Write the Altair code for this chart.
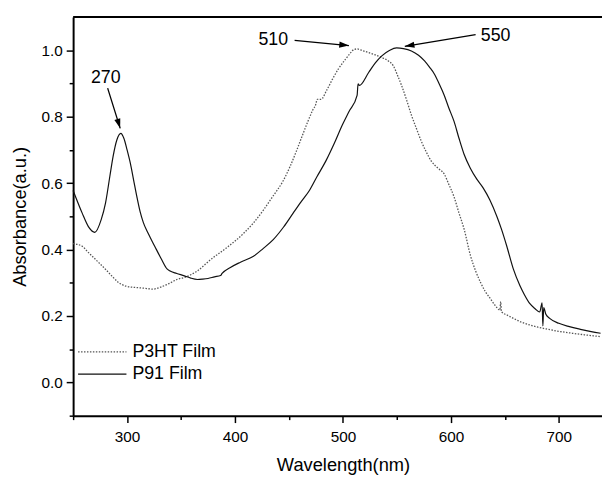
import math
import altair as alt
import pandas as pd

# ---------------- data ----------------
p91_nm = [250, 258.5, 264, 270.1, 276, 280, 284, 287, 290.5, 294.2, 297, 300, 303,
          306, 309, 312, 315, 319.5, 325.6, 332, 337, 339.4, 346, 353.1, 359, 365.2,
          370, 375, 381, 386.6, 388, 395.7, 405, 417.1, 426, 435.4, 445, 453.7,
          461, 468.9, 476, 484.2, 492, 499.4, 505.5, 513.1, 514.0, 515.2, 523.8,
          530, 536, 543, 549.7, 556, 563.4, 570, 575.6, 580, 584.8, 589, 593.9,
          598, 603, 607.5, 612.2, 618, 624, 630, 636, 642.7, 647, 651.8, 657.9,
          664, 668, 673.2, 678, 682.3, 684.5, 685.2, 686, 688, 691.5, 700, 709.8,
          720, 730, 738.7]
p91_abs = [0.578, 0.509, 0.470, 0.452, 0.490, 0.540, 0.620, 0.680, 0.730, 0.750,
           0.735, 0.700, 0.660, 0.610, 0.560, 0.515, 0.482, 0.449, 0.410, 0.370,
           0.342, 0.336, 0.328, 0.321, 0.314, 0.310, 0.311, 0.313, 0.318, 0.322,
           0.328, 0.346, 0.362, 0.380, 0.403, 0.430, 0.468, 0.509, 0.543, 0.578,
           0.620, 0.667, 0.720, 0.775, 0.815, 0.864, 0.899, 0.894, 0.933, 0.962,
           0.983, 0.999, 1.007, 1.005, 0.998, 0.985, 0.968, 0.950, 0.928, 0.900,
           0.864, 0.827, 0.785, 0.735, 0.687, 0.645, 0.612, 0.585, 0.550, 0.499,
           0.460, 0.410, 0.341, 0.291, 0.265, 0.237, 0.222, 0.212, 0.240, 0.170,
           0.225, 0.205, 0.193, 0.178, 0.168, 0.160, 0.153, 0.148]

p3ht_nm = [250, 258.5, 263, 267.7, 274, 279.9, 286, 292, 299, 307.3, 315, 324.1,
           331, 337.8, 347, 353.1, 365.2, 377.4, 392, 408, 417, 426.3, 435, 444.6,
           451, 456.8, 462, 467.4, 472, 475, 476, 479.6, 485, 490.3, 496, 502.4,
           507, 510, 513.1, 518, 523.8, 530, 536, 542, 546.7, 550.5, 554.3, 559,
           563.4, 568, 572.6, 577, 581.7, 588, 593.9, 598, 603, 607.5, 612.2,
           618.3, 623, 627.5, 632, 636.6, 641, 645.3, 646.2, 646.8, 652, 657.9,
           665, 673.2, 680, 688.4, 700, 712.8, 725, 738.7]
p3ht_abs = [0.418, 0.410, 0.395, 0.380, 0.360, 0.341, 0.320, 0.301, 0.290, 0.286,
            0.284, 0.281, 0.287, 0.296, 0.311, 0.316, 0.336, 0.370, 0.405, 0.449,
            0.480, 0.519, 0.560, 0.607, 0.650, 0.696, 0.740, 0.785, 0.820, 0.839,
            0.852, 0.852, 0.880, 0.913, 0.945, 0.973, 0.992, 1.002, 1.004, 0.999,
            0.993, 0.986, 0.978, 0.968, 0.953, 0.925, 0.894, 0.850, 0.805, 0.765,
            0.726, 0.695, 0.667, 0.645, 0.627, 0.597, 0.558, 0.510, 0.462, 0.380,
            0.335, 0.301, 0.273, 0.252, 0.232, 0.218, 0.243, 0.213, 0.203, 0.193,
            0.182, 0.173, 0.167, 0.161, 0.154, 0.148, 0.143, 0.138]

x_ticks = [250, 300, 350, 400, 450, 500, 550, 600, 650, 700]
y_ticks = [-0.1, 0.0, 0.1, 0.2, 0.3, 0.4, 0.5, 0.6, 0.7, 0.8, 0.9, 1.0]

peak_labels = ["270", "510", "550"]
legend_labels = ["P3HT Film", "P91 Film"]

# ---------------- layout / annotation placement ----------------
X_DOMAIN = [250, 740]
Y_DOMAIN = [-0.1, 1.1]
W, H = 536, 404
PX_NM = W / (X_DOMAIN[1] - X_DOMAIN[0])
PX_A = H / (Y_DOMAIN[1] - Y_DOMAIN[0])

label_x = [280.2, 435.4, 641.5]
label_y = [0.916, 1.031, 1.043]
arrow_x0 = [282.0, 455.2, 622.9]
arrow_y0 = [0.886, 1.030, 1.047]
arrow_x1 = [293.6, 505.5, 557.3]
arrow_y1 = [0.765, 1.014, 1.012]

angles = []
for a, b, c, d in zip(arrow_x0, arrow_y0, arrow_x1, arrow_y1):
    ang = math.degrees(math.atan2((c - a) * PX_NM, (d - b) * PX_A))
    angles.append(ang % 360)

FONT = "Liberation Sans"
X_TITLE = "Wavelength(nm)"
Y_TITLE = "Absorbance(a.u.)"

xs = alt.Scale(domain=X_DOMAIN, nice=False, zero=False)
ys = alt.Scale(domain=Y_DOMAIN, nice=False, zero=False)

x_axis = alt.Axis(
    values=x_ticks,
    labelExpr="datum.value % 100 === 0 ? datum.label : ''",
    tickSize={"condition": {"test": "datum.value % 100 === 0", "value": 7}, "value": 4},
    tickColor="black", tickWidth=1.5,
    domainColor="black", domainWidth=2,
    labelFont=FONT, labelFontSize=15.5, labelColor="black", labelPadding=7,
    labelOverlap=False, labelFlush=False,
    grid=False,
    titleFont=FONT, titleFontSize=18.5, titleFontWeight="normal", titleColor="black",
    titleX=273.5, titleY=50, titleBaseline="middle", titleAlign="center",
)
y_axis = alt.Axis(
    values=y_ticks,
    labelExpr="abs(round(datum.value * 10)) % 2 === 0 ? format(datum.value, '.1f') : ''",
    tickSize={"condition": {"test": "abs(round(datum.value * 10)) % 2 === 0", "value": 7}, "value": 4},
    tickColor="black", tickWidth=1.5,
    domainColor="black", domainWidth=2,
    labelFont=FONT, labelFontSize=15.5, labelColor="black", labelPadding=4,
    labelOverlap=False, labelFlush=False,
    grid=False,
    titleFont=FONT, titleFontSize=18.5, titleFontWeight="normal", titleColor="black",
    titleX=-54, titleY=H / 2, titleAngle=270, titleBaseline="middle", titleAlign="center",
)


def X(field):
    return alt.X(field, type="quantitative", scale=xs, axis=x_axis, title=X_TITLE)


def Y(field):
    return alt.Y(field, type="quantitative", scale=ys, axis=y_axis, title=Y_TITLE)


p3ht_df = pd.DataFrame({"nm": p3ht_nm, "abs": p3ht_abs})
p91_df = pd.DataFrame({"nm": p91_nm, "abs": p91_abs})

p3ht_line = alt.Chart(p3ht_df).mark_line(
    color="#555555", strokeWidth=1.3, strokeDash=[1.5, 1.5], interpolate="monotone"
).encode(x=X("nm"), y=Y("abs"), order="nm:Q")
p91_line = alt.Chart(p91_df).mark_line(
    color="#111111", strokeWidth=1.2, interpolate="monotone"
).encode(x=X("nm"), y=Y("abs"), order="nm:Q")

# top frame line
top_df = pd.DataFrame({"v": [Y_DOMAIN[1]]})
top_line = alt.Chart(top_df).mark_rule(color="black", strokeWidth=2).encode(y=Y("v"))

# annotations
ann_df = pd.DataFrame({
    "label": peak_labels, "lx": label_x, "ly": label_y,
    "x0": arrow_x0, "y0": arrow_y0, "x1": arrow_x1, "y1": arrow_y1, "ang": angles,
})
ann_text = alt.Chart(ann_df).mark_text(
    font=FONT, fontSize=18, color="black", align="center", baseline="middle"
).encode(x=X("lx"), y=Y("ly"), text="label:N")
ann_shaft = alt.Chart(ann_df).mark_rule(color="black", strokeWidth=1.3).encode(
    x=X("x0"), y=Y("y0"), x2="x1:Q", y2="y1:Q",
)
ann_head = alt.Chart(ann_df).mark_point(
    shape="M0,0L-0.32,1L0.32,1Z", size=380, filled=True, color="black", opacity=1,
    strokeWidth=0,
).encode(x=X("x1"), y=Y("y1"), angle=alt.Angle("ang:Q", scale=None))

# legend (drawn as marks)
leg_df = pd.DataFrame({"label": legend_labels, "ly": [0.092, 0.025],
                       "x0": [254.6, 254.6], "x1": [299.4, 299.4], "tx": [304.9, 304.9]})
leg_dot = alt.Chart(leg_df.iloc[[0]]).mark_rule(
    color="#555555", strokeWidth=1.3, strokeDash=[1.5, 1.5]
).encode(x=X("x0"), x2="x1:Q", y=Y("ly"))
leg_solid = alt.Chart(leg_df.iloc[[1]]).mark_rule(color="#111111", strokeWidth=1.2).encode(
    x=X("x0"), x2="x1:Q", y=Y("ly"))
leg_text = alt.Chart(leg_df).mark_text(
    font=FONT, fontSize=18, color="black", align="left", baseline="middle"
).encode(x=X("tx"), y=Y("ly"), text="label:N")

chart = alt.layer(
    p3ht_line, p91_line, top_line, ann_shaft, ann_head, ann_text,
    leg_dot, leg_solid, leg_text,
).properties(
    width=W, height=H,
    autosize=alt.AutoSizeParams(type="none"),
    padding={"left": 66, "top": 6, "right": 0, "bottom": 60},
    background="white",
).configure_view(stroke=None)

chart.save("out.html", embed_options={"renderer": "svg", "actions": False})
